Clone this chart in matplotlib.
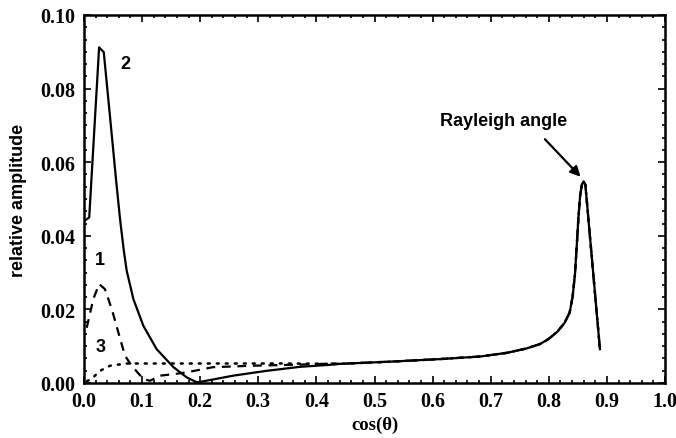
import matplotlib
matplotlib.use("Agg")
import matplotlib.pyplot as plt
from matplotlib.ticker import AutoMinorLocator

# ---- data ----
# shared tail (all three curves coincide beyond ~0.45)
x_tail = [0.44, 0.527, 0.613, 0.682, 0.728, 0.762, 0.785, 0.80, 0.815, 0.827,
          0.836, 0.841, 0.845, 0.848, 0.851, 0.854, 0.857, 0.860, 0.863, 0.888]
y_tail = [0.0052, 0.0058, 0.0065, 0.0072, 0.0082, 0.0094, 0.0106, 0.0120, 0.0140, 0.0163,
          0.0192, 0.0235, 0.0295, 0.0370, 0.0450, 0.0510, 0.0540, 0.0548, 0.0538, 0.0092]

# curve 2 (solid)
x2_head = [0.0, 0.002, 0.009, 0.026, 0.034, 0.045, 0.055, 0.062, 0.0685, 0.0735, 0.085,
           0.102, 0.125, 0.154, 0.177, 0.194, 0.20, 0.257, 0.314, 0.372, 0.429]
y2_head = [0.0441, 0.0442, 0.045, 0.0912, 0.0899, 0.0720, 0.0555, 0.0446, 0.0360, 0.0305,
           0.0228, 0.0156, 0.0092, 0.0043, 0.0015, 0.0002, 0.0003, 0.0020, 0.0033, 0.0044,
           0.0050]

# curve 1 (dashed)
x1_head = [0.0046, 0.016, 0.026, 0.036, 0.048, 0.059, 0.0706, 0.082, 0.102, 0.1136,
           0.131, 0.154, 0.177, 0.222, 0.291, 0.372, 0.429]
y1_head = [0.0150, 0.0228, 0.0269, 0.0255, 0.0200, 0.0138, 0.0074, 0.0047, 0.0011, 0.0006,
           0.0020, 0.0024, 0.0029, 0.0043, 0.0047, 0.0050, 0.0053]

# curve 3 (dotted)
x3_head = [0.005, 0.013, 0.0275, 0.045, 0.073, 0.15, 0.25, 0.35, 0.43]
y3_head = [0.0005, 0.0011, 0.0033, 0.0047, 0.0053, 0.0053, 0.0053, 0.0053, 0.0052]

x1 = x1_head + x_tail; y1 = y1_head + y_tail
x2 = x2_head + x_tail; y2 = y2_head + y_tail
x3 = x3_head + x_tail; y3 = y3_head + y_tail

x_ticks = [0.0, 0.1, 0.2, 0.3, 0.4, 0.5, 0.6, 0.7, 0.8, 0.9, 1.0]
y_ticks = [0.00, 0.02, 0.04, 0.06, 0.08, 0.10]

# ---- figure ----
fig = plt.figure(figsize=(6.76, 4.39), dpi=100)
ax = fig.add_axes([84/676, 1-384/439, (665-84)/676, (384-16)/439])

ax.plot(x2, y2, color="black", lw=1.6)
ax.plot(x1, y1, color="black", lw=1.6, linestyle=(0, (4, 3)))
ax.plot(x3, y3, color="black", lw=1.8, linestyle=(0, (0.8, 2.8)), dash_capstyle="round")

ax.set_xlim(0, 1.0)
ax.set_ylim(0, 0.10)
ax.set_xticks(x_ticks)
ax.set_yticks(y_ticks)
ax.set_xticklabels([f"{v:.1f}" for v in x_ticks])
ax.set_yticklabels([f"{v:.2f}" for v in y_ticks])
ax.xaxis.set_minor_locator(AutoMinorLocator(5))
ax.yaxis.set_minor_locator(AutoMinorLocator(6))
ax.tick_params(which="both", direction="in", top=True, right=True, width=1.2, colors="black")
ax.tick_params(which="major", length=5, pad=6)
ax.tick_params(which="minor", length=2.5)
for lab in ax.get_xticklabels() + ax.get_yticklabels():
    lab.set_fontfamily("Liberation Serif")
    lab.set_fontweight("bold")
    lab.set_fontsize(14.5)
for s in ax.spines.values():
    s.set_linewidth(1.8)

ax.set_xlabel("cos(θ)", family=["Liberation Serif", "DejaVu Serif"], fontweight="bold",
              fontsize=13.5, labelpad=3)
ax.set_ylabel("relative amplitude", family="Liberation Sans", fontweight="bold",
              fontsize=13, labelpad=10)

lab_kw = dict(family="Liberation Sans", fontweight="bold", fontsize=13, ha="center", va="center")
ax.text(0.072, 0.0868, "2", **lab_kw)
ax.text(0.028, 0.0335, "1", **lab_kw)
ax.text(0.028, 0.0100, "3", **lab_kw)
ax.text(0.722, 0.0712, "Rayleigh angle", **lab_kw)
ax.annotate("", xy=(0.858, 0.0555), xytext=(0.79, 0.0668),
            arrowprops=dict(arrowstyle="-|>", color="black", lw=1.6, mutation_scale=15))

fig.savefig("out.png", dpi=100)
